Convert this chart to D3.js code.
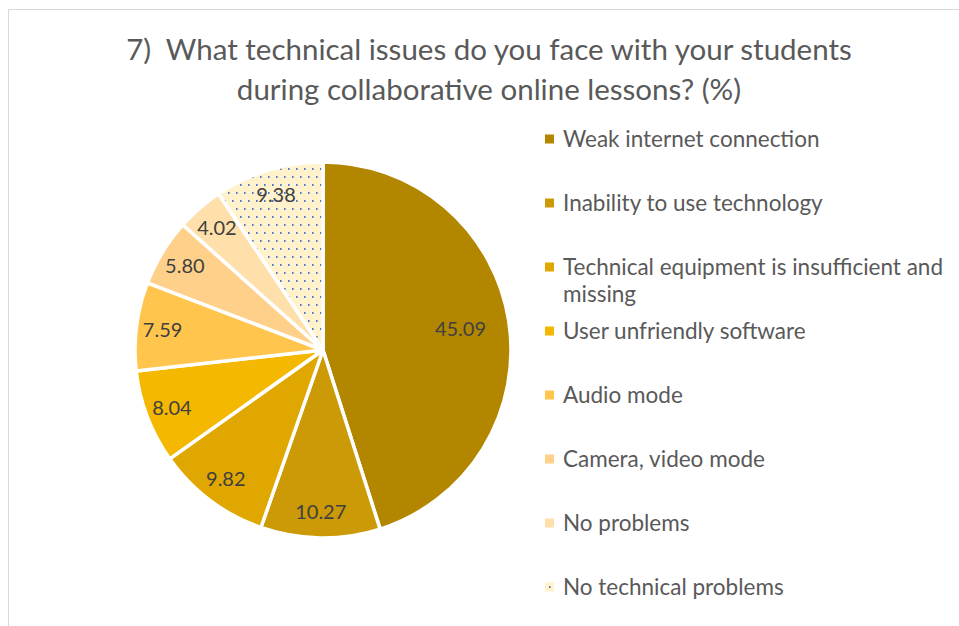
<!DOCTYPE html>
<html>
<head>
<meta charset="utf-8">
<script src="https://cdn.jsdelivr.net/npm/d3@7"></script>
<style>
  html, body { margin: 0; padding: 0; background: #fff; }
  svg { display: block; font-family: Lato, "Liberation Sans", sans-serif; }
  .title { white-space: pre; }
</style>
</head>
<body>
<svg id="chart" width="959" height="626"></svg>
<script>
// Survey answers, percent of respondents
const categories = [
  "Weak internet connection",
  "Inability to use technology",
  "Technical equipment is insufficient and missing",
  "User unfriendly software",
  "Audio mode",
  "Camera, video mode",
  "No problems",
  "No technical problems"
];
const values = [45.09, 10.27, 9.82, 8.04, 7.59, 5.80, 4.02, 9.38];
const colors = ["#B38600", "#CC9A06", "#E0A700", "#F5B800", "#FFC54D", "#FFD08A", "#FFDFAA", "#FFF2CC"];
const titleLines = [
  "7)  What technical issues do you face with your students",
  "during collaborative online lessons? (%)"
];

const svg = d3.select("#chart");
const W = 959, H = 626;

// outer chart frame
svg.append("rect")
  .attr("x", 8.5).attr("y", 9.5)
  .attr("width", W + 10).attr("height", H + 10)
  .attr("fill", "#fff").attr("stroke", "#D9D9D9").attr("stroke-width", 1);

// dotted fill for the last slice
const defs = svg.append("defs");
const pat = defs.append("pattern")
  .attr("id", "dots")
  .attr("patternUnits", "userSpaceOnUse")
  .attr("width", 8).attr("height", 16);
pat.append("rect").attr("width", 8).attr("height", 16).attr("fill", "#FFF2CC");
pat.append("rect").attr("x", 1).attr("y", 2).attr("width", 1.6).attr("height", 2).attr("fill", "#4F7ACB");
pat.append("rect").attr("x", 5).attr("y", 10).attr("width", 1.6).attr("height", 2).attr("fill", "#4F7ACB");

const fillFor = i => i === categories.length - 1 ? "url(#dots)" : colors[i];

// title
svg.append("text")
  .attr("class", "title")
  .attr("xml:space", "preserve")
  .attr("text-anchor", "middle")
  .attr("fill", "#595959")
  .attr("font-size", 29.5)
  .selectAll("tspan")
  .data(titleLines)
  .join("tspan")
  .attr("x", 489)
  .attr("y", (d, i) => 60 + i * 40)
  .text(d => d);

// pie
const cx = 323, cy = 350, r = 188;
const pie = d3.pie().sort(null).value(d => d)(values);
const arc = d3.arc().innerRadius(0).outerRadius(r);
const g = svg.append("g").attr("transform", `translate(${cx},${cy})`);

g.selectAll("path.slice")
  .data(pie)
  .join("path")
  .attr("class", "slice")
  .attr("d", arc)
  .attr("fill", (d, i) => fillFor(i))
  .attr("stroke", "#fff")
  .attr("stroke-width", 3.5)
  .attr("stroke-linejoin", "round");

// value labels: the dominant slice keeps its label nearer the centre
g.selectAll("text.val")
  .data(pie)
  .join("text")
  .attr("class", "val")
  .attr("transform", d => {
    const k = (d.endAngle - d.startAngle) > Math.PI / 2 ? 0.74 : 0.86;
    const a = (d.startAngle + d.endAngle) / 2;
    return `translate(${Math.sin(a) * r * k},${-Math.cos(a) * r * k})`;
  })
  .attr("text-anchor", "middle")
  .attr("dy", "0.35em")
  .attr("font-size", 20)
  .attr("fill", "#404040")
  .text(d => d.data.toFixed(2));

// legend
const legendX = 545, legendTop = 139, step = 64;
const legend = svg.append("g");
const wrapWidth = 392;
let y = legendTop;
categories.forEach((name, i) => {
  const row = legend.append("g");
  row.append("rect")
    .attr("x", legendX).attr("y", y - 4.5)
    .attr("width", 9).attr("height", 9)
    .attr("fill", fillFor(i));
  const t = row.append("text")
    .attr("x", legendX + 18)
    .attr("y", y)
    .attr("dy", "0.35em")
    .attr("font-size", 22.5)
    .attr("fill", "#595959");
  // wrap long entries onto a second line
  const words = name.split(" ");
  let line = [];
  let tspan = t.append("tspan").attr("x", legendX + 18);
  words.forEach(w => {
    line.push(w);
    tspan.text(line.join(" "));
    if (tspan.node().getComputedTextLength() > wrapWidth && line.length > 1) {
      line.pop();
      tspan.text(line.join(" "));
      line = [w];
      tspan = t.append("tspan").attr("x", legendX + 18).attr("dy", 27).text(w);
    }
  });
  y += step;
});
</script>
</body>
</html>
